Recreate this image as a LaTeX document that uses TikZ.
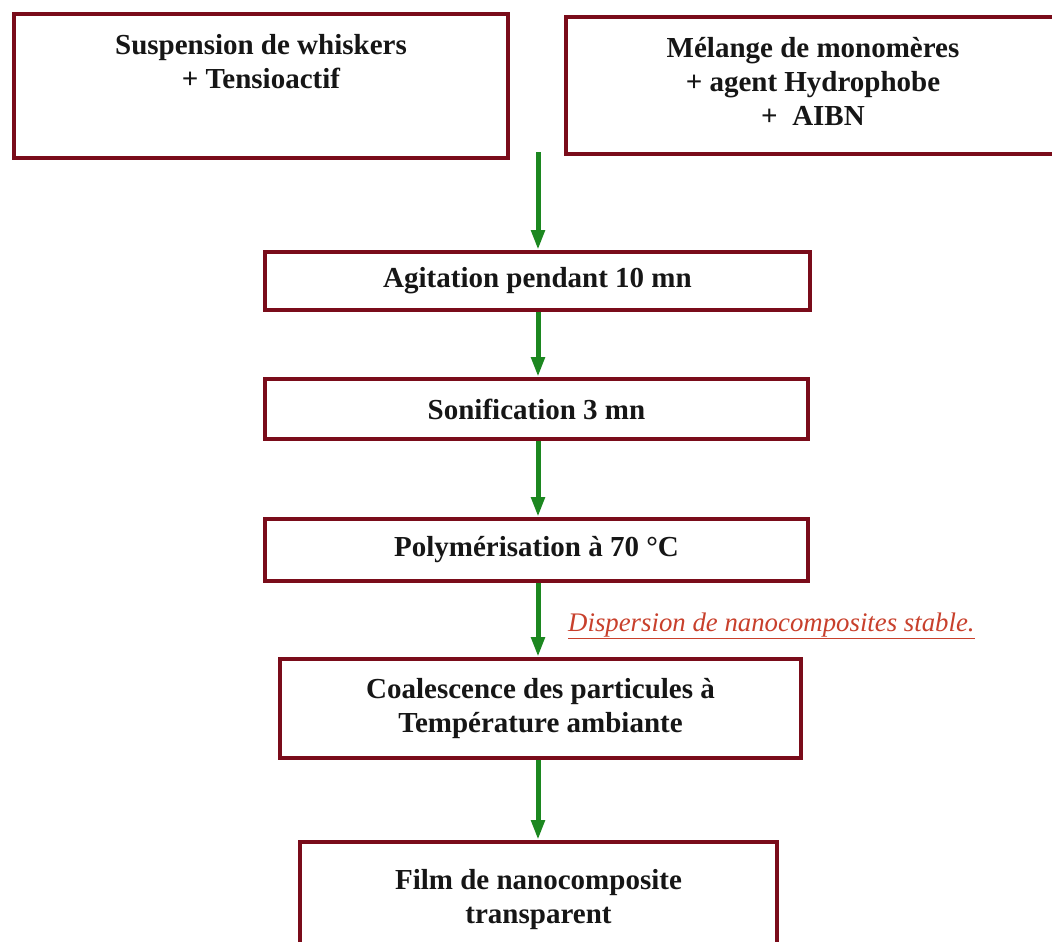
\documentclass[tikz,border=0pt]{standalone}
\usepackage{fontspec}
\setmainfont{Liberation Serif}
\usetikzlibrary{arrows.meta}
\definecolor{boxred}{RGB}{122,12,26}
\definecolor{arrgreen}{RGB}{28,135,32}
\definecolor{labred}{RGB}{200,64,44}
\definecolor{txtcol}{RGB}{22,22,22}
\tikzset{
  stepbox/.style={draw=boxred, line width=4pt, fill=white, inner sep=0pt,
    text=txtcol, font=\fontsize{29}{34}\selectfont\bfseries, align=center},
  flow/.style={draw=arrgreen, line width=5pt, -{Triangle[width=13pt,length=20pt]}},
  note/.style={text=labred, font=\fontsize{26.8}{30}\selectfont\itshape, anchor=west, inner sep=0pt}
}
\begin{document}
\begin{tikzpicture}[x=1pt,y=-1pt]
\useasboundingbox (0,0) rectangle (1052,942);
\clip (0,0) rectangle (1052,942);
\node[stepbox, minimum width=494pt, minimum height=144pt] (whisk) at (261,86)
  {\parbox[c][104pt][t]{480pt}{\centering Suspension de whiskers\\+ Tensioactif}};
\node[stepbox, minimum width=494pt, minimum height=137pt] (mono) at (813,85.5)
  {\parbox[c][96pt][t]{480pt}{\centering Mélange de monomères\\+ agent Hydrophobe\\+~~AIBN}};
\node[stepbox, minimum width=545pt, minimum height=58pt] (agit) at (537.5,281) {Agitation pendant 10 mn};
\node[stepbox, minimum width=543pt, minimum height=60pt] (sonif) at (536.5,409) {Sonification 3 mn};
\node[stepbox, minimum width=543pt, minimum height=62pt] (polym) at (536.5,550) {Polymérisation à 70 °C};
\node[stepbox, minimum width=521pt, minimum height=99pt] (coal) at (540.5,708.5) {Coalescence des particules à\\Température ambiante};
\node[stepbox, minimum width=477pt, minimum height=116pt] (film) at (538.5,900) {Film de nanocomposite\\transparent};
\coordinate (merge) at (538,152);
\draw[flow] (merge) -- (agit.north -| merge);
\draw[flow] (agit.south -| merge) -- (sonif.north -| merge);
\draw[flow] (sonif.south -| merge) -- (polym.north -| merge);
\draw[flow] (polym.south -| merge) -- (coal.north -| merge);
\draw[flow] (coal.south -| merge) -- (film.north -| merge);
\node[note] (disp) at (568,626) {\underline{Dispersion de nanocomposites stable.}};
\end{tikzpicture}
\end{document}
